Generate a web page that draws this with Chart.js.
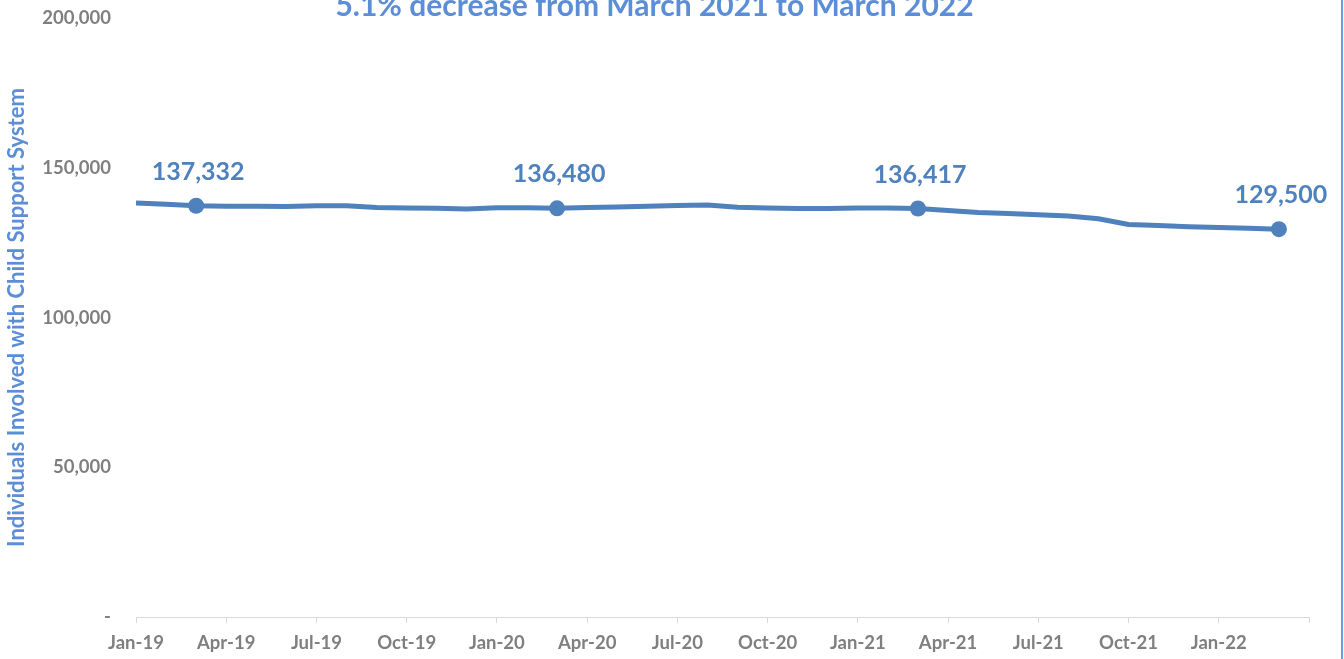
<!DOCTYPE html>
<html>
<head>
<meta charset="utf-8">
<script src="https://cdn.jsdelivr.net/npm/chart.js@4"></script>
<style>
  html, body { margin: 0; padding: 0; background: #ffffff; overflow: hidden; }
  body { width: 1344px; height: 659px; position: relative; }
  #wrap { position: absolute; left: 0; top: -18px; width: 1341px; height: 677px; }
  #edge { position: absolute; left: 1341px; top: 0; width: 2px; height: 659px; background: #6d9eda; }
</style>
</head>
<body>
<div id="wrap"><canvas id="c"></canvas></div>
<div id="edge"></div>
<script>
// ---- data ----
const months = [
  'Jan-19','Feb-19','Mar-19','Apr-19','May-19','Jun-19','Jul-19','Aug-19','Sep-19','Oct-19','Nov-19','Dec-19',
  'Jan-20','Feb-20','Mar-20','Apr-20','May-20','Jun-20','Jul-20','Aug-20','Sep-20','Oct-20','Nov-20','Dec-20',
  'Jan-21','Feb-21','Mar-21','Apr-21','May-21','Jun-21','Jul-21','Aug-21','Sep-21','Oct-21','Nov-21','Dec-21',
  'Jan-22','Feb-22','Mar-22'
];
const individuals = [
  138230, 137800, 137332, 137170, 137130, 137100, 137300, 137350, 136730, 136560, 136460, 136230,
  136630, 136660, 136480, 136750, 136880, 137150, 137380, 137580, 136810, 136550, 136380, 136410,
  136550, 136550, 136417, 135720, 135080, 134720, 134320, 133880, 132980, 131100, 130700, 130350,
  130100, 129850, 129500
];
const xTickLabels = ['Jan-19','Apr-19','Jul-19','Oct-19','Jan-20','Apr-20','Jul-20','Oct-20','Jan-21','Apr-21','Jul-21','Oct-21','Jan-22',''];
const labeledMonths = ['Mar-19','Mar-20','Mar-21','Mar-22'];
const chartTitle = '5.1% decrease from March 2021 to March 2022';
const yAxisTitle = 'Individuals Involved with Child Support System';

// ---- styles ----
const lineColor = '#4f81bd';
const titleBlue = '#5b8ed6';
const gray = '#7f7f7f';
const FONT = 'Lato, "Open Sans", sans-serif';

const points = individuals.map((v, i) => ({ x: i, y: v }));
const fmt = v => v.toLocaleString('en-US');

const valueLabels = {
  id: 'valueLabels',
  afterDatasetsDraw(chart) {
    const meta = chart.getDatasetMeta(0);
    const ctx = chart.ctx;
    ctx.save();
    ctx.font = 'bold 25px ' + FONT;
    ctx.fillStyle = lineColor;
    ctx.textAlign = 'center';
    ctx.textBaseline = 'middle';
    meta.data.forEach((el, i) => {
      if (!labeledMonths.includes(months[i])) return;
      ctx.fillText(fmt(individuals[i]), el.x + 2, el.y - 34);
    });
    ctx.restore();
  }
};

new Chart(document.getElementById('c'), {
  type: 'line',
  data: {
    datasets: [{
      label: 'Individuals',
      data: points,
      borderColor: lineColor,
      backgroundColor: lineColor,
      borderWidth: 5,
      tension: 0,
      pointRadius: ctx => labeledMonths.includes(months[ctx.dataIndex]) ? 8 : 0,
      pointHoverRadius: ctx => labeledMonths.includes(months[ctx.dataIndex]) ? 8 : 0,
      pointBackgroundColor: lineColor,
      pointBorderWidth: 0
    }]
  },
  options: {
    responsive: true,
    maintainAspectRatio: false,
    animation: false,
    devicePixelRatio: 1,
    layout: { padding: { left: 0, right: 32, top: 0, bottom: 0 } },
    plugins: {
      legend: { display: false },
      tooltip: { enabled: false },
      title: {
        display: true,
        text: chartTitle,
        color: titleBlue,
        font: { family: FONT, size: 30, weight: 'bold', lineHeight: 1 },
        padding: { top: 3, bottom: -3 }
      }
    },
    scales: {
      x: {
        type: 'linear',
        min: 0,
        max: 39,
        afterFit: s => { s.height = 42; },
        afterBuildTicks: s => { s.ticks = xTickLabels.map((_, k) => ({ value: k * 3 })); },
        ticks: {
          autoSkip: false,
          maxRotation: 0,
          minRotation: 0,
          padding: 9,
          color: gray,
          font: { family: FONT, size: 18.5, weight: 'bold' },
          callback: v => xTickLabels[v / 3]
        },
        grid: { display: true, drawOnChartArea: false, drawTicks: true, tickLength: 6, color: '#d9d9d9', lineWidth: 1 },
        border: { display: true, color: '#d9d9d9', width: 1 }
      },
      y: {
        min: 0,
        max: 200000,
        afterFit: s => { s.width = 136; },
        ticks: {
          stepSize: 50000,
          padding: 25,
          color: gray,
          font: { family: FONT, size: 18.5, weight: 'bold' },
          callback: v => v === 0 ? '-' : fmt(v)
        },
        grid: { display: false, drawTicks: false },
        border: { display: false },
        title: {
          display: true,
          text: yAxisTitle,
          color: titleBlue,
          font: { family: FONT, size: 22, weight: 'bold' },
          padding: { top: 4, bottom: 0 }
        }
      }
    }
  },
  plugins: [valueLabels]
});
</script>
</body>
</html>
